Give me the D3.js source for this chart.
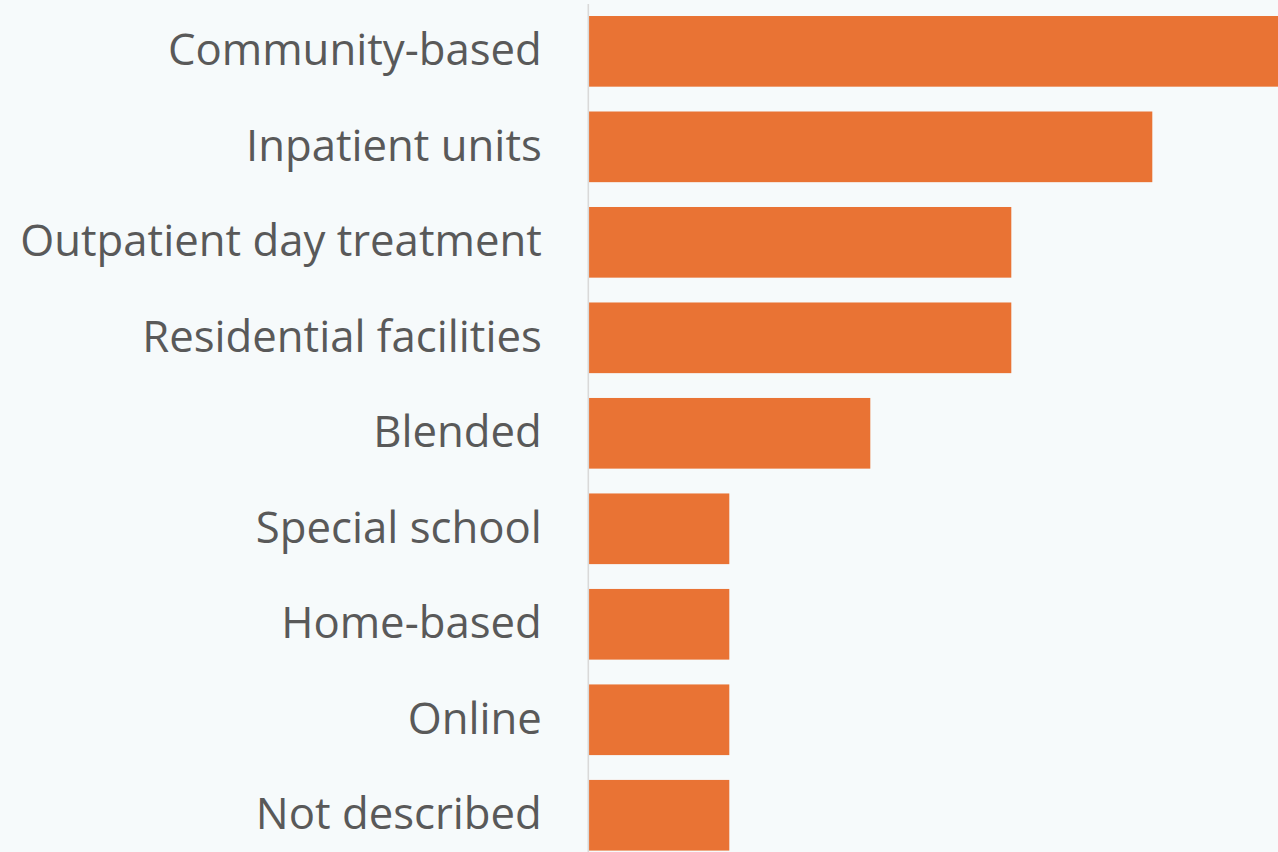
<!DOCTYPE html>
<html>
<head>
<meta charset="utf-8">
<script src="https://cdn.jsdelivr.net/npm/d3@7"></script>
<style>
  html, body { margin: 0; padding: 0; background: #f6fafb; overflow: hidden; }
  svg { display: block; }
</style>
</head>
<body>
<svg id="chart" width="1278" height="852"></svg>
<script>
// Settings where studies were delivered (number of studies)
const categories = [
  "Community-based",
  "Inpatient units",
  "Outpatient day treatment",
  "Residential facilities",
  "Blended",
  "Special school",
  "Home-based",
  "Online",
  "Not described"
];
const studyCounts = [5, 4, 3, 3, 2, 1, 1, 1, 1];

const width = 1278, height = 852;
const svg = d3.select("#chart");

svg.append("rect")
  .attr("width", width).attr("height", height)
  .attr("fill", "#f6fafb");

const x = d3.scaleLinear()
  .domain([0, 5])
  .range([588.3, 1293.3]);

const y = d3.scaleBand()
  .domain(categories)
  .range([3.6, 863])
  .paddingInner(0.26)
  .paddingOuter(0.13);

const data = categories.map((c, i) => ({ category: c, value: studyCounts[i] }));

svg.append("g")
  .selectAll("rect")
  .data(data)
  .join("rect")
  .attr("x", x(0))
  .attr("y", d => y(d.category))
  .attr("width", d => x(d.value) - x(0))
  .attr("height", y.bandwidth())
  .attr("fill", "#e97334");

// Category axis
const yAxis = d3.axisLeft(y).tickSize(0).tickPadding(46);
const gy = svg.append("g")
  .attr("transform", `translate(${x(0) - 0.5},0)`)
  .call(yAxis);
gy.select(".domain")
  .attr("stroke", "#d9d9d9")
  .attr("stroke-width", 1.6);
gy.selectAll("text")
  .attr("fill", "#595959")
  .style("font-family", "'Open Sans', sans-serif")
  .style("font-variant-ligatures", "none")
  .style("font-size", "43.7px");
</script>
</body>
</html>
